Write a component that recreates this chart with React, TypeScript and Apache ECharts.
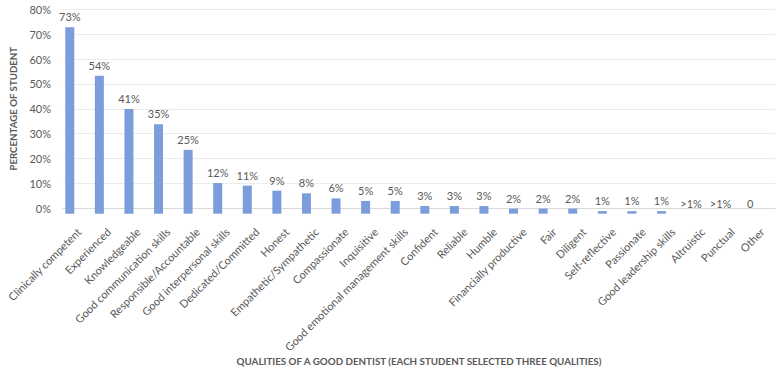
import React, { useEffect, useRef } from "react";
import * as echarts from "echarts";

const categories = [
  "Clinically competent",
  "Experienced",
  "Knowledgeable",
  "Good communication skills",
  "Responsible/Accountable",
  "Good interpersonal skills",
  "Dedicated/Committed",
  "Honest",
  "Empathetic/Sympathetic",
  "Compassionate",
  "Inquisitive",
  "Good emotional management skills",
  "Confident",
  "Reliable",
  "Humble",
  "Financially productive",
  "Fair",
  "Diligent",
  "Self-reflective",
  "Passionate",
  "Good leadership skills",
  "Altruistic",
  "Punctual",
  "Other",
];

const values = [73, 54, 41, 35, 25, 12, 11, 9, 8, 6, 5, 5, 3, 3, 3, 2, 2, 2, 1, 1, 1, 0, 0, 0];

const valueLabels = [
  "73%", "54%", "41%", "35%", "25%", "12%", "11%", "9%", "8%", "6%", "5%", "5%",
  "3%", "3%", "3%", "2%", "2%", "2%", "1%", "1%", "1%", ">1%", ">1%", "0",
];

const yTicks = { min: 0, max: 80, interval: 10 };

const FONT = "Lato, 'Open Sans', sans-serif";
const TEXT = "#595959";

export default function App() {
  const ref = useRef<HTMLDivElement>(null);
  useEffect(() => {
    if (!ref.current) return;
    const chart = echarts.init(ref.current, undefined, { renderer: "svg" });
    const top = 9.5;
    const height = 204.2;
    chart.setOption({
      animation: false,
      backgroundColor: "#ffffff",
      textStyle: { fontFamily: FONT },
      grid: [
        { left: 62, right: 6, top, height, containLabel: false },
        { left: 55, width: 710, top, height, containLabel: false },
        { left: 64, width: 713, top, height, containLabel: false },
      ],
      xAxis: [
        {
          gridIndex: 0,
          type: "category",
          data: categories,
          boundaryGap: true,
          axisLine: { show: true, lineStyle: { color: "#d9d9d9", width: 1 } },
          axisTick: { show: false },
          axisLabel: { show: false },
          name: "QUALITIES OF A GOOD DENTIST (EACH STUDENT SELECTED THREE QUALITIES)",
          nameLocation: "middle",
          nameGap: 148,
          nameTextStyle: { color: TEXT, fontSize: 9.8, fontWeight: "bold", fontFamily: FONT },
        },
        {
          gridIndex: 1,
          type: "category",
          data: categories,
          boundaryGap: true,
          show: false,
        },
        {
          gridIndex: 2,
          type: "category",
          data: categories,
          boundaryGap: true,
          axisLine: { show: false },
          axisTick: { show: false },
          axisLabel: {
            rotate: 45,
            interval: 0,
            margin: 16,
            color: TEXT,
            fontSize: 11,
            fontFamily: FONT,
          },
        },
      ],
      yAxis: [
        {
          gridIndex: 0,
          type: "value",
          min: yTicks.min,
          max: yTicks.max,
          interval: yTicks.interval,
          axisLine: { show: false },
          axisTick: { show: false },
          splitLine: { show: true, lineStyle: { color: "#ececec", width: 1 } },
          axisLabel: {
            formatter: "{value}%",
            color: TEXT,
            fontSize: 11,
            margin: 12,
            fontFamily: FONT,
          },
          name: "PERCENTAGE OF STUDENT",
          nameLocation: "middle",
          nameGap: 45,
          nameRotate: 90,
          nameTextStyle: { color: TEXT, fontSize: 9.7, fontWeight: "bold", fontFamily: FONT },
        },
        {
          gridIndex: 1,
          type: "value",
          min: yTicks.min,
          max: yTicks.max,
          interval: yTicks.interval,
          show: false,
          splitLine: { show: false },
        },
        {
          gridIndex: 2,
          type: "value",
          min: yTicks.min,
          max: yTicks.max,
          interval: yTicks.interval,
          show: false,
          splitLine: { show: false },
        },
      ],
      series: [
        {
          type: "bar",
          xAxisIndex: 1,
          yAxisIndex: 1,
          data: values,
          barWidth: 9,
          itemStyle: { color: "#7b9ddb" },
          label: {
            show: true,
            position: "top",
            distance: 5,
            color: TEXT,
            fontSize: 11,
            fontFamily: FONT,
            formatter: (p: any) => valueLabels[p.dataIndex],
          },
        },
      ],
    });
    return () => chart.dispose();
  }, []);
  return (
    <div
      ref={ref}
      style={{ position: "fixed", left: 0, top: 0, width: 781, height: 371, background: "#fff" }}
    />
  );
}
